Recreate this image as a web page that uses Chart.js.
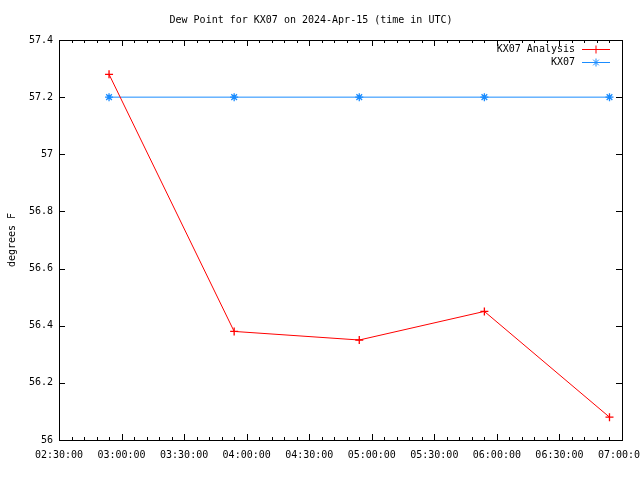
<!DOCTYPE html>
<html>
<head>
<meta charset="utf-8">
<script src="https://cdn.jsdelivr.net/npm/chart.js@4.4.1/dist/chart.umd.min.js"></script>
<style>
  html, body { margin: 0; padding: 0; background: #fff; }
  #wrap { width: 640px; height: 480px; }
</style>
</head>
<body>
<div id="wrap"><canvas id="plot-canvas" width="640" height="480"></canvas></div>
<script>
"use strict";

// data
const times = ['02:54:00', '03:54:00', '04:54:00', '05:54:00', '06:54:00'];
const analysisVals = [57.28, 56.38, 56.35, 56.45, 56.08];
const stationVals = [57.2, 57.2, 57.2, 57.2, 57.2];
const xTickLabels = ['02:30:00', '03:00:00', '03:30:00', '04:00:00', '04:30:00',
                     '05:00:00', '05:30:00', '06:00:00', '06:30:00', '07:00:00'];
const yTicks = [56, 56.2, 56.4, 56.6, 56.8, 57, 57.2, 57.4];

const FONT = "'DejaVu Sans Mono', monospace";

// minutes since midnight
function toMin(s) {
    const p = s.split(':').map(Number);
    return p[0] * 60 + p[1] + p[2] / 60;
}
function fmt(m) {
    const h = Math.floor(m / 60), mm = Math.round(m % 60);
    return String(h).padStart(2, '0') + ':' + String(mm).padStart(2, '0') + ':00';
}

const xMin = toMin(xTickLabels[0]);
const xMax = toMin(xTickLabels[xTickLabels.length - 1]);

// gnuplot style frame + inward ticks + legend
const frame = {
    id: 'frame',
    afterDraw(c) {
        const ctx = c.ctx, a = c.chartArea;
        const xs = c.scales.x, ys = c.scales.y;
        ctx.save();
        ctx.strokeStyle = '#000';
        ctx.lineWidth = 1;
        ctx.beginPath();
        // minor x ticks every 6 min
        for (let m = xMin; m <= xMax + 0.01; m += 6) {
            const px = Math.round(xs.getPixelForValue(m)) + 0.5;
            const major = Math.abs((m - xMin) % 30) < 0.01;
            const len = major ? 6 : 3;
            ctx.moveTo(px, a.bottom); ctx.lineTo(px, a.bottom - len);
            ctx.moveTo(px, a.top); ctx.lineTo(px, a.top + len);
        }
        yTicks.forEach(v => {
            const py = Math.round(ys.getPixelForValue(v)) + 0.5;
            ctx.moveTo(a.left, py); ctx.lineTo(a.left + 6, py);
            ctx.moveTo(a.right, py); ctx.lineTo(a.right - 6, py);
        });
        ctx.stroke();
        ctx.strokeRect(Math.round(a.left) + 0.5, Math.round(a.top) + 0.5,
                       Math.round(a.right - a.left), Math.round(a.bottom - a.top));

        // legend
        ctx.font = '10px ' + FONT;
        ctx.textAlign = 'right';
        ctx.textBaseline = 'middle';
        c.data.datasets.forEach((ds, i) => {
            const y = 49.5 + i * 13;
            ctx.fillStyle = '#000';
            ctx.fillText(ds.label, 575, y);
            ctx.strokeStyle = ds.borderColor;
            ctx.beginPath();
            ctx.moveTo(582, y); ctx.lineTo(610, y);
            ctx.stroke();
            Chart.helpers.drawPoint(ctx, { pointStyle: ds.pointStyle, radius: 4, borderWidth: 1.3 }, 596, y);
        });
        ctx.restore();
    }
};

new Chart(document.getElementById('plot-canvas').getContext('2d'), {
    type: 'line',
    data: {
        datasets: [
            {
                label: 'KX07 Analysis',
                data: times.map((t, i) => ({ x: toMin(t), y: analysisVals[i] })),
                borderColor: '#ff0000',
                backgroundColor: '#ff0000',
                borderWidth: 1,
                pointStyle: 'cross',
                pointRadius: 4,
                pointBorderWidth: 1.3,
                tension: 0
            },
            {
                label: 'KX07',
                data: times.map((t, i) => ({ x: toMin(t), y: stationVals[i] })),
                borderColor: '#1a8cff',
                backgroundColor: '#1a8cff',
                borderWidth: 1,
                pointStyle: 'star',
                pointRadius: 4,
                pointBorderWidth: 1.3,
                tension: 0
            }
        ]
    },
    options: {
        responsive: false,
        animation: false,
        layout: { padding: { top: 0, right: 18, left: 0, bottom: 0 } },
        plugins: {
            legend: { display: false },
            tooltip: { enabled: false },
            title: {
                display: true,
                text: 'Dew Point for KX07 on 2024-Apr-15 (time in UTC)',
                color: '#000',
                font: { family: FONT, size: 10, weight: 'normal' },
                padding: { top: 14, bottom: 14 }
            }
        },
        scales: {
            x: {
                type: 'linear',
                min: xMin,
                max: xMax,
                afterBuildTicks: s => { s.ticks = xTickLabels.map(t => ({ value: toMin(t) })); },
                afterFit: s => { s.height = 40; s.paddingRight = 0; s.paddingLeft = 0; },
                grid: { display: false, drawTicks: false },
                border: { display: false },
                ticks: {
                    callback: v => fmt(v),
                    color: '#000',
                    padding: 9,
                    maxRotation: 0,
                    autoSkip: false,
                    font: { family: FONT, size: 10 }
                }
            },
            y: {
                min: 56,
                max: 57.4,
                afterBuildTicks: s => { s.ticks = yTicks.map(v => ({ value: v })); },
                afterFit: s => { s.width = 59; s.paddingTop = 0; s.paddingBottom = 0; },
                grid: { display: false, drawTicks: false },
                border: { display: false },
                title: {
                    display: true,
                    text: 'degrees F',
                    color: '#000',
                    font: { family: FONT, size: 10 },
                    padding: { top: 6, bottom: 0 }
                },
                ticks: {
                    callback: v => String(+v.toFixed(1)),
                    color: '#000',
                    padding: 6,
                    font: { family: FONT, size: 10 }
                }
            }
        }
    },
    plugins: [frame]
});
</script>
</body>
</html>
